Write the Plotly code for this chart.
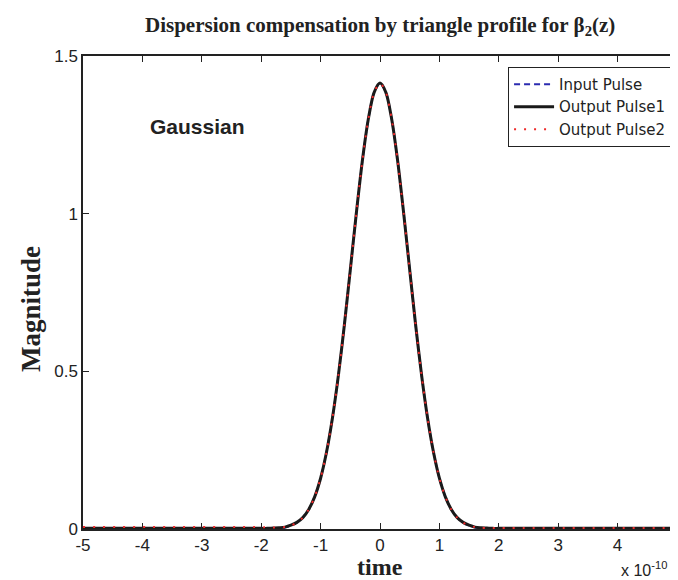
import plotly.graph_objects as go

# time axis (units of 1e-10 s)
time = [-5.0, -2.0, -1.9, -1.8, -1.7, -1.6, -1.5, -1.4, -1.3, -1.2, -1.1, -1.0,
        -0.9, -0.8, -0.7, -0.6, -0.5, -0.4, -0.3, -0.2, -0.1, 0.0,
        0.1, 0.2, 0.3, 0.4, 0.5, 0.6, 0.7, 0.8, 0.9, 1.0,
        1.1, 1.2, 1.3, 1.4, 1.5, 1.6, 1.7, 1.8, 1.9, 2.0, 5.0]

input_pulse = [0.0, 0.0, 0.0, 0.001, 0.003, 0.005, 0.011, 0.020, 0.036, 0.062, 0.102, 0.161,
               0.244, 0.353, 0.488, 0.647, 0.822, 0.999, 1.163, 1.296, 1.384, 1.414,
               1.384, 1.296, 1.163, 0.999, 0.822, 0.647, 0.488, 0.353, 0.244, 0.161,
               0.102, 0.062, 0.036, 0.020, 0.011, 0.005, 0.003, 0.001, 0.0, 0.0, 0.0]

output_pulse1 = [0.002, 0.002, 0.002, 0.003, 0.004, 0.006, 0.012, 0.021, 0.036, 0.062, 0.102, 0.161,
                 0.244, 0.353, 0.488, 0.647, 0.822, 0.999, 1.163, 1.296, 1.384, 1.414,
                 1.384, 1.296, 1.163, 0.999, 0.822, 0.647, 0.488, 0.353, 0.244, 0.161,
                 0.102, 0.062, 0.036, 0.021, 0.012, 0.006, 0.004, 0.003, 0.002, 0.002, 0.002]

output_pulse2 = [0.006, 0.006, 0.005, 0.005, 0.005, 0.006, 0.011, 0.020, 0.036, 0.062, 0.102, 0.161,
                 0.244, 0.353, 0.488, 0.647, 0.822, 0.999, 1.163, 1.296, 1.384, 1.414,
                 1.384, 1.296, 1.163, 0.999, 0.822, 0.647, 0.488, 0.353, 0.244, 0.161,
                 0.102, 0.062, 0.036, 0.020, 0.011, 0.006, 0.004, 0.003, 0.003, 0.003, 0.003]

x_ticks = [-5, -4, -3, -2, -1, 0, 1, 2, 3, 4, 5]
x_tick_labels = ["-5", "-4", "-3", "-2", "-1", "0", "1", "2", "3", "4", "5"]
y_ticks = [0, 0.5, 1, 1.5]
y_tick_labels = ["0", "0.5", "1", "1.5"]

fig = go.Figure()
fig.add_trace(go.Scatter(x=time, y=input_pulse, mode="lines", name="Input Pulse",
                         line=dict(color="#2b2bb0", width=2, dash="6px,4px",
                                   shape="spline", smoothing=0.8)))
fig.add_trace(go.Scatter(x=time, y=output_pulse1, mode="lines", name="Output Pulse1",
                         line=dict(color="#1a1a1a", width=3, shape="spline", smoothing=0.8)))
fig.add_trace(go.Scatter(x=time, y=output_pulse2, mode="lines", name="Output Pulse2",
                         line=dict(color="#ee2a2a", width=2, dash="2px,8px",
                                   shape="spline", smoothing=0.8)))

tick_font = dict(family="Liberation Sans, Arial", size=17, color="#222")
fig.update_layout(
    width=678, height=580,
    margin=dict(l=75, r=4, t=48, b=59),
    paper_bgcolor="white", plot_bgcolor="white",
    showlegend=True,
    legend=dict(x=0.99, y=0.977, xanchor="right", yanchor="top",
                bgcolor="white", bordercolor="#222", borderwidth=1,
                font=dict(family="DejaVu Sans, Liberation Sans", size=15, color="#222"),
                tracegroupgap=0, itemwidth=40),
    xaxis=dict(range=[-5, 5], tickvals=x_ticks, ticktext=x_tick_labels, ticks="inside", ticklen=6,
               tickcolor="#222", showline=True, linecolor="#222", linewidth=1.5,
               mirror="ticks", showgrid=False, zeroline=False, tickfont=tick_font),
    yaxis=dict(range=[0, 1.5], tickvals=y_ticks, ticktext=y_tick_labels, ticks="inside",
               ticklen=6, tickcolor="#222", showline=True, linecolor="#222", linewidth=1.5,
               mirror="ticks", showgrid=False, zeroline=False, tickfont=tick_font),
    annotations=[
        dict(text="<b>Dispersion compensation by triangle profile for β<sub>2</sub>(z)</b>",
             xref="paper", yref="paper", x=0.5, y=1, yshift=15, showarrow=False,
             xanchor="center", yanchor="bottom",
             font=dict(family="Liberation Serif, Times New Roman", size=21, color="#222")),
        dict(text="<b>Magnitude</b>", xref="paper", yref="paper", x=0, xshift=-52, y=0.465,
             textangle=-90, showarrow=False, xanchor="center", yanchor="middle",
             font=dict(family="Liberation Serif, Times New Roman", size=27, color="#222")),
        dict(text="<b>time</b>", xref="paper", yref="paper", x=0.5, y=0, yshift=-38,
             showarrow=False, xanchor="center", yanchor="middle",
             font=dict(family="Liberation Serif, Times New Roman", size=24, color="#222")),
        dict(text="x 10<sup>-10</sup>", xref="paper", yref="paper", x=1, xshift=-8, y=0, yshift=-40,
             showarrow=False, xanchor="right", yanchor="middle",
             font=dict(family="Liberation Sans, Arial", size=16, color="#222")),
        dict(text="<b>Gaussian</b>", xref="paper", yref="paper", x=0.11, y=0.85,
             showarrow=False, xanchor="left", yanchor="middle",
             font=dict(family="Liberation Sans, Arial", size=21, color="#222")),
    ],
)

fig.write_html("out.html")
